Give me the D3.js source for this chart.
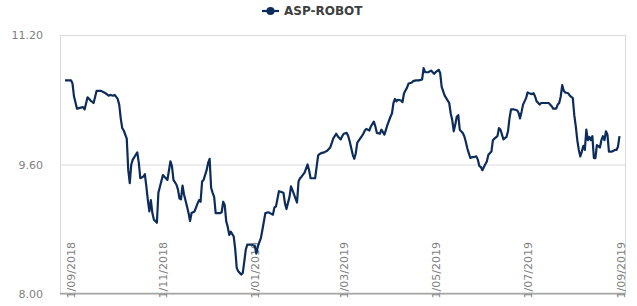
<!DOCTYPE html>
<html>
<head>
<meta charset="utf-8">
<script src="https://cdn.jsdelivr.net/npm/d3@7"></script>
<style>
  body { margin: 0; background: #fff; }
  svg { display: block; font-family: "DejaVu Sans", Verdana, sans-serif; }
</style>
</head>
<body>
<div id="chart"></div>
<script>
const seriesName = "ASP-ROBOT";

// closing values
const dates = [
  "2018-08-28","2018-09-01","2018-09-02","2018-09-03","2018-09-05","2018-09-07","2018-09-09","2018-09-10",
  "2018-09-12","2018-09-14","2018-09-16","2018-09-18","2018-09-21","2018-09-23","2018-09-24","2018-09-26",
  "2018-09-27","2018-09-29","2018-09-30","2018-10-02","2018-10-03","2018-10-04","2018-10-05","2018-10-06",
  "2018-10-08","2018-10-09","2018-10-10","2018-10-11","2018-10-12","2018-10-14","2018-10-15","2018-10-16",
  "2018-10-17","2018-10-19","2018-10-20","2018-10-21","2018-10-22","2018-10-23","2018-10-24","2018-10-25",
  "2018-10-26","2018-10-28","2018-10-29","2018-11-01","2018-11-02","2018-11-04","2018-11-06","2018-11-07",
  "2018-11-08","2018-11-10","2018-11-11","2018-11-12","2018-11-13","2018-11-14","2018-11-15","2018-11-17",
  "2018-11-18","2018-11-19","2018-11-20","2018-11-22","2018-11-24","2018-11-25","2018-11-26","2018-11-27",
  "2018-11-28","2018-11-30","2018-12-01","2018-12-02","2018-12-03","2018-12-04","2018-12-05","2018-12-06",
  "2018-12-09","2018-12-10","2018-12-11","2018-12-12","2018-12-13","2018-12-14","2018-12-15","2018-12-16",
  "2018-12-18","2018-12-19","2018-12-20","2018-12-21","2018-12-23","2018-12-24","2018-12-25","2018-12-26",
  "2018-12-27","2018-12-30","2019-01-01","2019-01-02","2019-01-03","2019-01-05","2019-01-06","2019-01-08",
  "2019-01-10","2019-01-12","2019-01-13","2019-01-14","2019-01-15","2019-01-17","2019-01-20","2019-01-21",
  "2019-01-22","2019-01-24","2019-01-25","2019-01-26","2019-01-27","2019-01-29","2019-01-30","2019-01-31",
  "2019-02-01","2019-02-03","2019-02-05","2019-02-06","2019-02-07","2019-02-10","2019-02-12","2019-02-13",
  "2019-02-14","2019-02-16","2019-02-18","2019-02-20","2019-02-21","2019-02-22","2019-02-24","2019-02-25",
  "2019-02-27","2019-02-28","2019-03-01","2019-03-03","2019-03-04","2019-03-05","2019-03-07","2019-03-08",
  "2019-03-09","2019-03-10","2019-03-13","2019-03-14","2019-03-15","2019-03-16","2019-03-18","2019-03-19",
  "2019-03-21","2019-03-22","2019-03-23","2019-03-25","2019-03-26","2019-03-28","2019-03-30","2019-04-01",
  "2019-04-02","2019-04-03","2019-04-04","2019-04-05","2019-04-06","2019-04-08","2019-04-09","2019-04-10",
  "2019-04-12","2019-04-13","2019-04-15","2019-04-16","2019-04-18","2019-04-20","2019-04-22","2019-04-23",
  "2019-04-24","2019-04-26","2019-04-28","2019-04-29","2019-04-30","2019-05-01","2019-05-03","2019-05-04",
  "2019-05-05","2019-05-07","2019-05-08","2019-05-10","2019-05-11","2019-05-12","2019-05-13","2019-05-14",
  "2019-05-15","2019-05-16","2019-05-17","2019-05-19","2019-05-20","2019-05-21","2019-05-22","2019-05-24",
  "2019-05-25","2019-05-26","2019-05-28","2019-05-29","2019-05-30","2019-05-31","2019-06-01","2019-06-02",
  "2019-06-04","2019-06-05","2019-06-07","2019-06-08","2019-06-09","2019-06-11","2019-06-12","2019-06-13",
  "2019-06-14","2019-06-15","2019-06-17","2019-06-18","2019-06-19","2019-06-20","2019-06-22","2019-06-24",
  "2019-06-25","2019-06-26","2019-06-27","2019-06-28","2019-06-30","2019-07-01","2019-07-02","2019-07-04",
  "2019-07-05","2019-07-06","2019-07-07","2019-07-09","2019-07-10","2019-07-12","2019-07-13","2019-07-15",
  "2019-07-17","2019-07-18","2019-07-20","2019-07-21","2019-07-22","2019-07-23","2019-07-24","2019-07-25",
  "2019-07-26","2019-07-28","2019-07-29","2019-07-31","2019-08-01","2019-08-02","2019-08-03","2019-08-04",
  "2019-08-05","2019-08-06","2019-08-07","2019-08-08","2019-08-09","2019-08-10","2019-08-11","2019-08-12",
  "2019-08-13","2019-08-14","2019-08-15","2019-08-16","2019-08-18","2019-08-19","2019-08-20","2019-08-21",
  "2019-08-22","2019-08-23","2019-08-24","2019-08-26","2019-08-28","2019-08-29","2019-08-30","2019-08-31"
];

const values = [
  10.64,10.64,10.60,10.44,10.29,10.30,10.31,10.28,
  10.43,10.39,10.36,10.51,10.51,10.49,10.48,10.45,
  10.46,10.45,10.46,10.41,10.34,10.17,10.05,10.02,
  9.92,9.53,9.37,9.60,9.66,9.72,9.75,9.62,
  9.43,9.45,9.48,9.33,9.16,9.02,9.16,9.00,
  8.92,8.88,9.25,9.47,9.45,9.41,9.64,9.58,
  9.41,9.35,9.29,9.18,9.17,9.34,9.23,9.08,
  9.00,8.90,9.00,9.02,9.12,9.16,9.14,9.39,
  9.41,9.53,9.62,9.67,9.31,9.25,9.20,9.00,
  9.00,9.01,9.14,9.10,8.90,8.83,8.73,8.77,
  8.71,8.55,8.32,8.28,8.24,8.26,8.40,8.55,
  8.61,8.61,8.59,8.50,8.59,8.69,8.79,9.00,
  9.01,8.99,8.98,9.07,9.08,9.27,9.25,9.12,
  9.05,9.20,9.33,9.28,9.23,9.13,9.39,9.43,
  9.45,9.50,9.60,9.53,9.43,9.43,9.71,9.73,
  9.74,9.75,9.77,9.81,9.86,9.92,9.98,9.95,
  9.91,9.95,9.98,9.99,9.95,9.88,9.72,9.67,
  9.74,9.87,9.95,9.98,10.02,10.04,10.02,10.07,
  10.13,10.07,9.99,9.98,10.03,9.97,10.09,10.19,
  10.23,10.36,10.41,10.38,10.40,10.39,10.37,10.48,
  10.55,10.60,10.61,10.63,10.64,10.64,10.65,10.79,
  10.74,10.74,10.76,10.74,10.72,10.74,10.77,10.73,
  10.56,10.45,10.42,10.36,10.23,10.15,10.01,10.09,
  10.19,10.21,10.03,9.99,9.95,9.88,9.80,9.68,
  9.69,9.69,9.70,9.66,9.58,9.57,9.53,9.57,
  9.64,9.72,9.76,9.90,9.92,9.95,10.05,10.03,
  9.97,9.91,9.94,10.01,10.17,10.28,10.28,10.27,
  10.24,10.17,10.25,10.34,10.42,10.49,10.48,10.47,
  10.48,10.44,10.38,10.34,10.36,10.36,10.36,10.36,
  10.32,10.29,10.29,10.34,10.36,10.44,10.58,10.51,
  10.49,10.48,10.45,10.42,10.21,10.07,9.90,9.78,
  9.70,9.76,9.83,9.78,10.03,9.90,9.94,9.90,
  9.95,9.68,9.68,9.84,9.81,9.90,9.95,9.90,
  10.01,9.97,9.76,9.76,9.78,9.78,9.82,9.95
];

const yTicks = [8.00, 9.60, 11.20];
const xTickDates = ["2018-09-01","2018-11-01","2019-01-01","2019-03-01","2019-05-01","2019-07-01","2019-09-01"];

const width = 637, height = 306;
const plot = { left: 60, right: 625, top: 35, bottom: 294 };
const lineColor = "#0c2c5c";

const parse = d3.timeParse("%Y-%m-%d");
const data = dates.map((d, i) => ({ date: parse(d), value: values[i] }));

const x = d3.scaleTime()
  .domain([parse("2018-09-01"), parse("2019-09-01")])
  .range([71, 621]);

const y = d3.scaleLinear()
  .domain([8, 11.2])
  .range([plot.bottom, plot.top]);

const svg = d3.select("#chart").append("svg")
  .attr("width", width)
  .attr("height", height);

// plot area border
svg.append("rect")
  .attr("x", plot.left + 0.5)
  .attr("y", plot.top + 0.5)
  .attr("width", plot.right - plot.left)
  .attr("height", plot.bottom - plot.top)
  .attr("fill", "none")
  .attr("stroke", "#d9d9d9");

// y axis with gridlines
const yAxis = svg.append("g")
  .attr("transform", "translate(" + plot.left + ",0)")
  .call(d3.axisLeft(y)
    .tickValues(yTicks)
    .tickSize(-(plot.right - plot.left))
    .tickPadding(17)
    .tickFormat(d3.format(".2f")));
yAxis.select(".domain").remove();
yAxis.selectAll(".tick line").attr("stroke", "#d9d9d9");
yAxis.selectAll(".tick text")
  .attr("fill", "#7f7f7f")
  .style("font-size", "11px")
  .style("font-family", "'DejaVu Sans', Verdana, sans-serif");

// x axis, labels turned upright
const xAxis = svg.append("g")
  .attr("transform", "translate(0," + plot.bottom + ")")
  .call(d3.axisBottom(x)
    .tickValues(xTickDates.map(parse))
    .tickSize(0)
    .tickFormat(d3.timeFormat("%-d/%m/%Y")));
xAxis.select(".domain").remove();
xAxis.selectAll(".tick text")
  .attr("x", 0)
  .attr("y", 0)
  .attr("dy", "0.35em")
  .attr("text-anchor", "end")
  .attr("transform", "translate(0,-52) rotate(-90)")
  .attr("fill", "#7f7f7f")
  .style("font-size", "11px")
  .style("font-family", "'DejaVu Sans', Verdana, sans-serif");

// bottom axis line
svg.append("line")
  .attr("x1", plot.left)
  .attr("x2", plot.right)
  .attr("y1", plot.bottom - 0.5)
  .attr("y2", plot.bottom - 0.5)
  .attr("stroke", "#a6a6a6")
  .attr("stroke-width", 1.5);

// the series
const line = d3.line()
  .x(d => x(d.date))
  .y(d => y(d.value));

svg.append("path")
  .datum(data)
  .attr("d", line)
  .attr("fill", "none")
  .attr("stroke", lineColor)
  .attr("stroke-width", 2.2)
  .attr("stroke-linejoin", "round");

// legend
const legend = svg.append("g").attr("transform", "translate(262,11)");
legend.append("line")
  .attr("x1", 0).attr("x2", 17)
  .attr("y1", 0).attr("y2", 0)
  .attr("stroke", lineColor)
  .attr("stroke-width", 2.2);
legend.append("circle")
  .attr("cx", 8.5).attr("cy", 0).attr("r", 4)
  .attr("fill", lineColor);
legend.append("text")
  .attr("x", 22)
  .attr("y", 0)
  .attr("dy", "0.35em")
  .attr("fill", "#404040")
  .style("font-size", "12px")
  .style("font-weight", "bold")
  .text(seriesName);
</script>
</body>
</html>
